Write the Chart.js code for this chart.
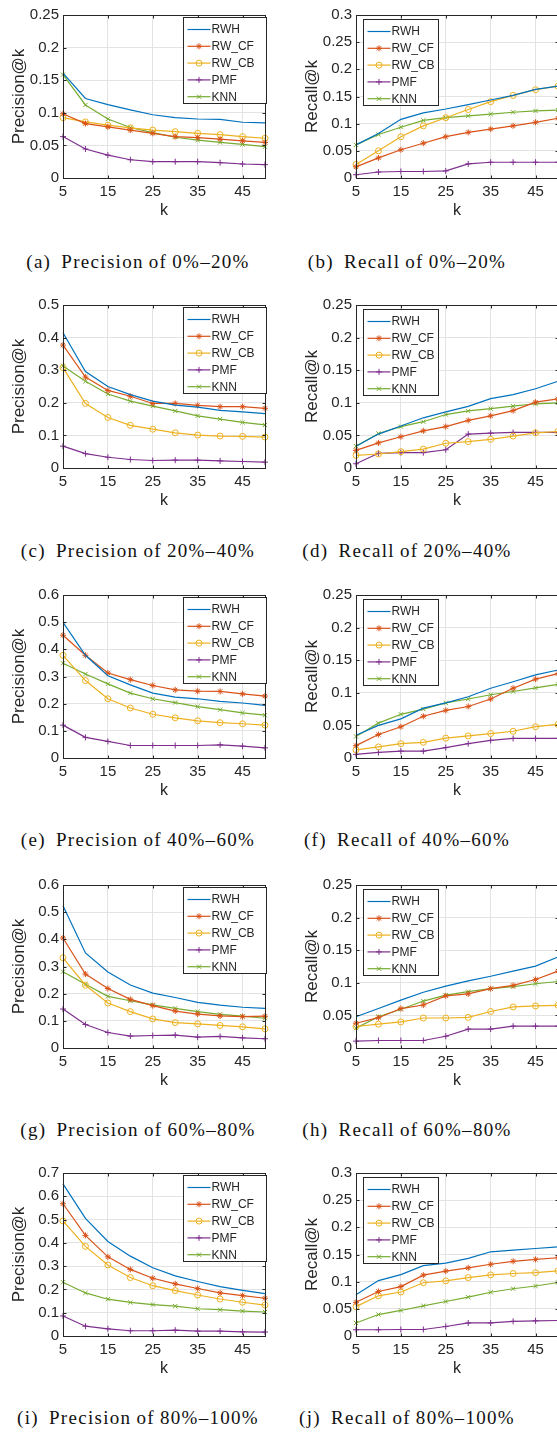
<!doctype html>
<html lang="en">
<head>
<meta charset="utf-8">
<title>Precision@k and Recall@k</title>
<script src="https://cdn.jsdelivr.net/npm/chart.js@4.4.0/dist/chart.umd.min.js"></script>
<style>
  html, body { margin: 0; padding: 0; background: #fff; }
  body { width: 557px; height: 1433px; overflow: hidden; position: relative; }
  canvas { position: absolute; }
  .cap { position: absolute; width: 276px; text-align: center; font-family: "Liberation Serif", serif;
         font-size: 19px; letter-spacing: 1.3px; word-spacing: -1px; line-height: 20px; color: #111; white-space: nowrap; }
</style>
</head>
<body>
<canvas id="pa" width="270" height="220" style="left:0;top:2px"></canvas>
<canvas id="pb" width="270" height="220" style="left:293px;top:2px"></canvas>
<canvas id="pc" width="270" height="220" style="left:0;top:292px"></canvas>
<canvas id="pd" width="270" height="220" style="left:293px;top:292px"></canvas>
<canvas id="pe" width="270" height="220" style="left:0;top:582px"></canvas>
<canvas id="pf" width="270" height="220" style="left:293px;top:582px"></canvas>
<canvas id="pg" width="270" height="220" style="left:0;top:872px"></canvas>
<canvas id="ph" width="270" height="220" style="left:293px;top:872px"></canvas>
<canvas id="pi" width="270" height="220" style="left:0;top:1160px"></canvas>
<canvas id="pj" width="270" height="220" style="left:293px;top:1160px"></canvas>

<div class="cap" style="left:0;top:252px">(a)&nbsp; Precision of 0%–20%</div>
<div class="cap" style="left:269px;top:252px">(b)&nbsp; Recall of 0%–20%</div>
<div class="cap" style="left:0;top:541px">(c)&nbsp; Precision of 20%–40%</div>
<div class="cap" style="left:269px;top:541px">(d)&nbsp; Recall of 20%–40%</div>
<div class="cap" style="left:0;top:830px">(e)&nbsp; Precision of 40%–60%</div>
<div class="cap" style="left:269px;top:830px">(f)&nbsp; Recall of 40%–60%</div>
<div class="cap" style="left:0;top:1120px">(g)&nbsp; Precision of 60%–80%</div>
<div class="cap" style="left:269px;top:1120px">(h)&nbsp; Recall of 60%–80%</div>
<div class="cap" style="left:0;top:1408px">(i)&nbsp; Precision of 80%–100%</div>
<div class="cap" style="left:269px;top:1408px">(j)&nbsp; Recall of 80%–100%</div>

<script>
// k values and the ticks shown on the x axis
const kValues = [5, 10, 15, 20, 25, 30, 35, 40, 45, 50];
const kTicks = [5, 15, 25, 35, 45];
const methods = ['RWH', 'RW_CF', 'RW_CB', 'PMF', 'KNN'];

// each panel: rows in the order RWH, RW_CF, RW_CB, PMF, KNN
const precA = [
  [0.161, 0.122, 0.1125, 0.1045, 0.097, 0.0925, 0.0905, 0.09, 0.0855, 0.0845],
  [0.0985, 0.0835, 0.0785, 0.0735, 0.0685, 0.0635, 0.062, 0.0595, 0.057, 0.0545],
  [0.0925, 0.086, 0.081, 0.077, 0.0735, 0.071, 0.0685, 0.0665, 0.0635, 0.061],
  [0.0635, 0.0445, 0.035, 0.028, 0.025, 0.025, 0.025, 0.0235, 0.0215, 0.0205],
  [0.1585, 0.112, 0.0905, 0.0775, 0.0695, 0.0625, 0.058, 0.0545, 0.0515, 0.048]
];
const recallB = [
  [0.061, 0.082, 0.108, 0.12, 0.127, 0.135, 0.1435, 0.152, 0.163, 0.169],
  [0.0205, 0.037, 0.052, 0.064, 0.076, 0.084, 0.09, 0.096, 0.1025, 0.11],
  [0.025, 0.05, 0.076, 0.096, 0.111, 0.126, 0.1405, 0.152, 0.1625, 0.169],
  [0.006, 0.011, 0.012, 0.012, 0.013, 0.026, 0.029, 0.029, 0.029, 0.029],
  [0.061, 0.08, 0.0935, 0.106, 0.111, 0.1145, 0.1175, 0.121, 0.1235, 0.125]
];
const precC = [
  [0.415, 0.296, 0.25, 0.225, 0.205, 0.193, 0.187, 0.177, 0.172, 0.167],
  [0.377, 0.279, 0.238, 0.22, 0.198, 0.198, 0.192, 0.188, 0.188, 0.183],
  [0.308, 0.198, 0.155, 0.131, 0.119, 0.108, 0.101, 0.098, 0.097, 0.095],
  [0.067, 0.044, 0.033, 0.026, 0.023, 0.024, 0.024, 0.022, 0.02, 0.018],
  [0.313, 0.266, 0.227, 0.205, 0.19, 0.175, 0.16, 0.15, 0.14, 0.132]
];
const recallD = [
  [0.0335, 0.052, 0.0645, 0.077, 0.086, 0.0945, 0.1065, 0.1125, 0.1215, 0.133],
  [0.027, 0.0385, 0.048, 0.057, 0.0635, 0.073, 0.08, 0.088, 0.101, 0.106],
  [0.0195, 0.0215, 0.025, 0.029, 0.038, 0.0405, 0.044, 0.049, 0.054, 0.056],
  [0.0065, 0.0225, 0.0235, 0.0235, 0.028, 0.052, 0.0535, 0.0545, 0.0545, 0.0545],
  [0.0335, 0.053, 0.0635, 0.071, 0.082, 0.0875, 0.091, 0.095, 0.0985, 0.1]
];
const precE = [
  [0.4995, 0.378, 0.303, 0.269, 0.239, 0.224, 0.218, 0.2085, 0.2025, 0.194],
  [0.452, 0.378, 0.313, 0.2885, 0.267, 0.251, 0.246, 0.245, 0.236, 0.228],
  [0.378, 0.285, 0.218, 0.184, 0.161, 0.148, 0.137, 0.13, 0.126, 0.121],
  [0.121, 0.076, 0.061, 0.046, 0.046, 0.046, 0.046, 0.0485, 0.0435, 0.0375],
  [0.349, 0.309, 0.273, 0.239, 0.218, 0.204, 0.189, 0.178, 0.166, 0.1575]
];
const recallF = [
  [0.035, 0.05, 0.06, 0.0765, 0.0845, 0.094, 0.107, 0.117, 0.1275, 0.135],
  [0.019, 0.036, 0.048, 0.064, 0.073, 0.079, 0.0905, 0.107, 0.121, 0.1295],
  [0.0125, 0.017, 0.022, 0.024, 0.0305, 0.034, 0.0375, 0.041, 0.048, 0.0515],
  [0.0055, 0.0085, 0.0105, 0.0105, 0.016, 0.022, 0.027, 0.03, 0.03, 0.03],
  [0.033, 0.0535, 0.067, 0.075, 0.0845, 0.0905, 0.097, 0.102, 0.1075, 0.113]
];
const precG = [
  [0.524, 0.35, 0.28, 0.232, 0.202, 0.186, 0.168, 0.158, 0.15, 0.146],
  [0.405, 0.272, 0.219, 0.179, 0.156, 0.136, 0.125, 0.118, 0.1155, 0.117],
  [0.332, 0.231, 0.1655, 0.134, 0.107, 0.0935, 0.089, 0.083, 0.078, 0.0705],
  [0.1435, 0.0865, 0.057, 0.044, 0.046, 0.0475, 0.04, 0.0425, 0.0375, 0.034],
  [0.281, 0.235, 0.19, 0.174, 0.159, 0.146, 0.134, 0.124, 0.117, 0.1095]
];
const recallH = [
  [0.048, 0.0605, 0.0735, 0.0855, 0.095, 0.103, 0.11, 0.118, 0.1255, 0.1395],
  [0.038, 0.0465, 0.0605, 0.066, 0.08, 0.083, 0.091, 0.096, 0.105, 0.118],
  [0.033, 0.0365, 0.04, 0.046, 0.046, 0.047, 0.056, 0.063, 0.0645, 0.0655],
  [0.0105, 0.0115, 0.0115, 0.0115, 0.018, 0.029, 0.029, 0.0335, 0.0335, 0.0335],
  [0.0305, 0.048, 0.0595, 0.072, 0.081, 0.0865, 0.091, 0.094, 0.0985, 0.102]
];
const precI = [
  [0.653, 0.505, 0.406, 0.343, 0.293, 0.258, 0.234, 0.212, 0.196, 0.182],
  [0.568, 0.432, 0.34, 0.286, 0.248, 0.224, 0.204, 0.185, 0.1735, 0.162],
  [0.494, 0.385, 0.305, 0.251, 0.216, 0.195, 0.176, 0.159, 0.145, 0.133],
  [0.086, 0.042, 0.031, 0.0225, 0.0225, 0.025, 0.021, 0.021, 0.018, 0.017],
  [0.231, 0.185, 0.158, 0.144, 0.135, 0.128, 0.117, 0.113, 0.107, 0.103]
];
const recallJ = [
  [0.076, 0.102, 0.113, 0.1295, 0.134, 0.143, 0.155, 0.158, 0.161, 0.164],
  [0.062, 0.082, 0.091, 0.112, 0.1195, 0.1255, 0.132, 0.1375, 0.141, 0.144],
  [0.054, 0.074, 0.081, 0.098, 0.1015, 0.1075, 0.1125, 0.115, 0.1165, 0.12],
  [0.0115, 0.0115, 0.012, 0.012, 0.0175, 0.024, 0.024, 0.027, 0.028, 0.0285],
  [0.024, 0.0395, 0.047, 0.0555, 0.0635, 0.0715, 0.0805, 0.087, 0.092, 0.0985]
];

// matlab default line colours and markers
const colors = ['#0072BD', '#D95319', '#EDB120', '#7E2F8E', '#77AC30'];
const markers = [false, 'star', 'circle', 'cross', 'crossRot'];
const ink = '#262626';

Chart.defaults.font.family = '"Liberation Sans", Arial, sans-serif';

// axes box with inward ticks, like matlab "box on"
const frame = {
  id: 'frame',
  afterDraw(chart) {
    const { ctx, chartArea: a, scales } = chart;
    const L = Math.round(a.left) + 0.5, R = Math.round(a.right) + 0.5;
    const T = Math.round(a.top) + 0.5, B = Math.round(a.bottom) + 0.5;
    ctx.save();
    ctx.strokeStyle = ink;
    ctx.lineWidth = 1;
    ctx.strokeRect(L, T, R - L, B - T);
    ctx.beginPath();
    scales.x.ticks.forEach(t => {
      const px = Math.round(scales.x.getPixelForValue(t.value)) + 0.5;
      ctx.moveTo(px, B); ctx.lineTo(px, B - 3);
      ctx.moveTo(px, T); ctx.lineTo(px, T + 3);
    });
    scales.y.ticks.forEach(t => {
      const py = Math.round(scales.y.getPixelForValue(t.value)) + 0.5;
      ctx.moveTo(L, py); ctx.lineTo(L + 3, py);
      ctx.moveTo(R, py); ctx.lineTo(R - 3, py);
    });
    ctx.stroke();
    ctx.restore();
  }
};

// legend box drawn inside the axes
const boxLegend = {
  id: 'boxLegend',
  afterDraw(chart, args, opts) {
    const { ctx, chartArea: a } = chart;
    const w = opts.side === 'right' ? 83 : 75;
    const h = 86;
    const x0 = Math.round(opts.side === 'right' ? a.right + 1 - w : a.left + 7) + 0.5;
    const y0 = Math.round(a.top + (opts.side === 'right' ? 2 : 4)) + 0.5;
    ctx.save();
    ctx.fillStyle = '#fff';
    ctx.fillRect(x0, y0, w, h);
    ctx.strokeStyle = ink;
    ctx.lineWidth = 1;
    ctx.strokeRect(x0, y0, w, h);
    ctx.font = '12px "Liberation Sans", Arial, sans-serif';
    ctx.textBaseline = 'middle';
    chart.data.datasets.forEach((ds, i) => {
      const y = y0 + 12 + i * 16.8;
      ctx.strokeStyle = ds.borderColor;
      ctx.lineWidth = ds.borderWidth;
      ctx.beginPath();
      ctx.moveTo(x0 + 4, y);
      ctx.lineTo(x0 + 27, y);
      ctx.stroke();
      if (ds.pointStyle) {
        ctx.fillStyle = 'rgba(0,0,0,0)';
        ctx.lineWidth = 1;
        Chart.helpers.drawPoint(ctx, { pointStyle: ds.pointStyle, radius: ds.pointRadius, borderWidth: 1, rotation: 0 }, x0 + 15.5, y);
      }
      ctx.fillStyle = ink;
      ctx.fillText(ds.label, x0 + 28, y + 0.5);
    });
    ctx.restore();
  }
};

function makePanel(id, rows, yMax, yStep, yTitle, side) {
  const datasets = rows.map((vals, i) => ({
    label: methods[i],
    data: kValues.map((k, j) => ({ x: k, y: vals[j] })),
    borderColor: colors[i],
    backgroundColor: 'rgba(0,0,0,0)',
    borderWidth: 1.2,
    pointStyle: markers[i],
    pointRadius: markers[i] ? 3 : 0,
    pointBorderWidth: 1,
    pointBorderColor: colors[i],
    pointBackgroundColor: 'rgba(0,0,0,0)',
    tension: 0,
    clip: false
  }));

  new Chart(document.getElementById(id), {
    type: 'line',
    data: { datasets },
    options: {
      responsive: false,
      animation: false,
      events: [],
      layout: { padding: { top: 10, right: 2, left: 0, bottom: 0 } },
      plugins: {
        legend: { display: false },
        tooltip: { enabled: false },
        boxLegend: { side }
      },
      scales: {
        x: {
          type: 'linear',
          min: 5,
          max: 50,
          afterBuildTicks: s => { s.ticks = kTicks.map(v => ({ value: v })); },
          afterFit: s => { s.height = 44; },
          grid: { color: '#e3e3e3', drawTicks: false },
          border: { display: false },
          ticks: { padding: 5, color: ink, font: { size: 15 }, maxRotation: 0, autoSkip: false },
          title: { display: true, text: 'k', color: ink, font: { size: 16 }, padding: { top: 0, bottom: 2 } }
        },
        y: {
          min: 0,
          max: yMax,
          afterFit: s => { s.width = 63; },
          grid: { color: '#e3e3e3', drawTicks: false },
          border: { display: false },
          ticks: { stepSize: yStep, padding: 4, color: ink, font: { size: 15 },
                   callback: v => String(+v.toFixed(3)) },
          title: { display: true, text: yTitle, color: ink, font: { size: 17 }, padding: { top: 9, bottom: 0 } }
        }
      }
    },
    plugins: [frame, boxLegend]
  });
}

makePanel('pa', precA, 0.25, 0.05, 'Precision@k', 'right');
makePanel('pb', recallB, 0.3, 0.05, 'Recall@k', 'left');
makePanel('pc', precC, 0.5, 0.1, 'Precision@k', 'right');
makePanel('pd', recallD, 0.25, 0.05, 'Recall@k', 'left');
makePanel('pe', precE, 0.6, 0.1, 'Precision@k', 'right');
makePanel('pf', recallF, 0.25, 0.05, 'Recall@k', 'left');
makePanel('pg', precG, 0.6, 0.1, 'Precision@k', 'right');
makePanel('ph', recallH, 0.25, 0.05, 'Recall@k', 'left');
makePanel('pi', precI, 0.7, 0.1, 'Precision@k', 'right');
makePanel('pj', recallJ, 0.3, 0.05, 'Recall@k', 'left');
</script>
</body>
</html>
